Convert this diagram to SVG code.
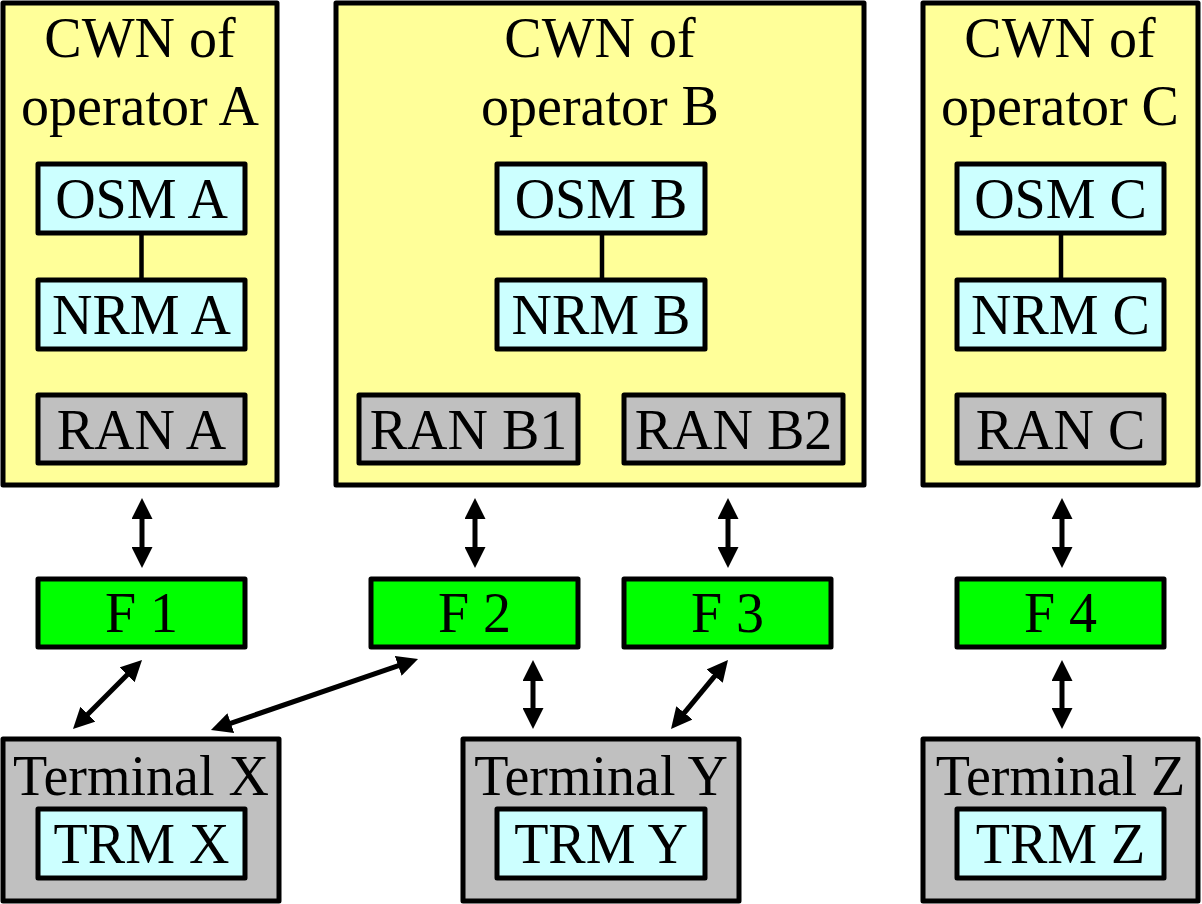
<svg xmlns="http://www.w3.org/2000/svg" width="1202" height="904" viewBox="0 0 1202 904">
  <style>
    rect { stroke: #000; stroke-width: 5; stroke-linejoin: round; }
    .cwn { fill: #FFFF99; }
    .mgr { fill: #CCFFFF; }
    .ran { fill: #C0C0C0; }
    .fb { fill: #00FF00; }
    .term { fill: #C0C0C0; }
    text { font-family: "Liberation Serif", "Times New Roman", serif; font-size: 56px; fill: #000; text-anchor: middle; }
    .link { stroke: #000; stroke-width: 4.5; fill: none; }
    .arrow { stroke: #000; stroke-width: 5; fill: none; marker-start: url(#head); marker-end: url(#head); }
  </style>
  <defs>
    <marker id="head" markerUnits="userSpaceOnUse" markerWidth="21" markerHeight="21" refX="5" refY="10.5" orient="auto-start-reverse" viewBox="0 0 21 21">
      <path d="M0,0 L21,10.5 L0,21 z" fill="#000"/>
    </marker>
  </defs>

  <!-- Operator A network -->
  <g id="cwn-a">
    <rect class="cwn" x="3" y="3" width="274" height="482"/>
    <text x="140" y="57">CWN of</text>
    <text x="140" y="125">operator A</text>
  </g>
  <g id="osm-a"><rect class="mgr" x="38" y="164" width="207" height="69"/><text x="141.5" y="218">OSM A</text></g>
  <g id="nrm-a"><rect class="mgr" x="38" y="280" width="207" height="69"/><text x="141.5" y="334">NRM A</text></g>
  <g id="ran-a"><rect class="ran" x="38" y="395" width="207" height="68"/><text x="141.5" y="449">RAN A</text></g>

  <!-- Operator B network -->
  <g id="cwn-b">
    <rect class="cwn" x="336" y="3" width="528" height="482"/>
    <text x="600" y="57">CWN of</text>
    <text x="600" y="125">operator B</text>
  </g>
  <g id="osm-b"><rect class="mgr" x="497" y="164" width="208" height="69"/><text x="601" y="218">OSM B</text></g>
  <g id="nrm-b"><rect class="mgr" x="497" y="280" width="208" height="69"/><text x="601" y="334">NRM B</text></g>
  <g id="ran-b1"><rect class="ran" x="359" y="395" width="219" height="68"/><text x="468.5" y="449">RAN B1</text></g>
  <g id="ran-b2"><rect class="ran" x="624" y="395" width="219" height="68"/><text x="733.5" y="449">RAN B2</text></g>

  <!-- Operator C network -->
  <g id="cwn-c">
    <rect class="cwn" x="923" y="3" width="275" height="482"/>
    <text x="1060" y="57">CWN of</text>
    <text x="1060" y="125">operator C</text>
  </g>
  <g id="osm-c"><rect class="mgr" x="957" y="164" width="207" height="69"/><text x="1060.5" y="218">OSM C</text></g>
  <g id="nrm-c"><rect class="mgr" x="957" y="280" width="207" height="69"/><text x="1060.5" y="334">NRM C</text></g>
  <g id="ran-c"><rect class="ran" x="957" y="395" width="207" height="68"/><text x="1060.5" y="449">RAN C</text></g>

  <!-- Frequency bands -->
  <g id="f1"><rect class="fb" x="38" y="579" width="207" height="68"/><text x="141.5" y="632">F 1</text></g>
  <g id="f2"><rect class="fb" x="371" y="579" width="207" height="68"/><text x="474.5" y="632">F 2</text></g>
  <g id="f3"><rect class="fb" x="624" y="579" width="207" height="68"/><text x="727.5" y="632">F 3</text></g>
  <g id="f4"><rect class="fb" x="957" y="579" width="207" height="68"/><text x="1060.5" y="632">F 4</text></g>

  <!-- Terminals -->
  <g id="terminal-x">
    <rect class="term" x="3" y="739" width="276" height="162"/>
    <text x="141" y="795">Terminal X</text>
    <rect class="mgr" x="38" y="809" width="207" height="69"/>
    <text x="141.5" y="863">TRM X</text>
  </g>
  <g id="terminal-y">
    <rect class="term" x="463" y="739" width="276" height="162"/>
    <text x="601" y="795">Terminal Y</text>
    <rect class="mgr" x="497" y="809" width="208" height="69"/>
    <text x="601" y="863">TRM Y</text>
  </g>
  <g id="terminal-z">
    <rect class="term" x="923" y="739" width="275" height="162"/>
    <text x="1060.5" y="795">Terminal Z</text>
    <rect class="mgr" x="957" y="809" width="207" height="69"/>
    <text x="1060.5" y="863">TRM Z</text>
  </g>

  <!-- Connectors -->
  <g id="connectors">
    <line class="link" x1="141.5" y1="233" x2="141.5" y2="280"/>
    <line class="link" x1="602" y1="233" x2="602" y2="280"/>
    <line class="link" x1="1061" y1="233" x2="1061" y2="280"/>

    <line class="arrow" x1="142" y1="514" x2="142" y2="552"/>
    <line class="arrow" x1="475" y1="514" x2="475" y2="552"/>
    <line class="arrow" x1="728" y1="514" x2="728" y2="552"/>
    <line class="arrow" x1="1062" y1="514" x2="1062" y2="552"/>

    <line class="arrow" x1="130.7" y1="671.3" x2="84.3" y2="717.7"/>
    <line class="arrow" x1="402.9" y1="664.2" x2="226.1" y2="724.8"/>
    <line class="arrow" x1="533" y1="676" x2="533" y2="713"/>
    <line class="arrow" x1="717.8" y1="672.3" x2="681.2" y2="716.7"/>
    <line class="arrow" x1="1062" y1="676" x2="1062" y2="713"/>
  </g>
</svg>
